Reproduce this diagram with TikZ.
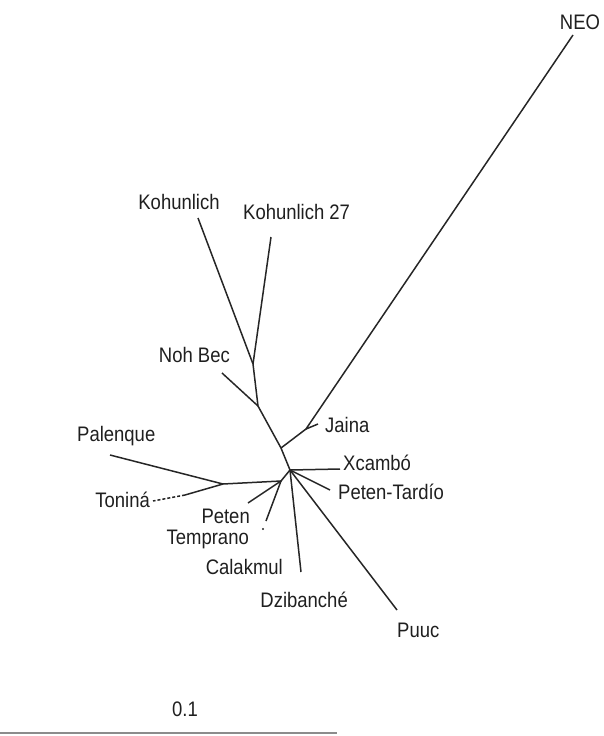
\documentclass[tikz,border=0pt]{standalone}
\usepackage{fontspec}
\setmainfont[FakeStretch=0.88]{Liberation Sans}
\begin{document}
\begin{tikzpicture}[x=1pt,y=-1pt,
  branch/.style={draw=black!85,line width=1.5pt},
  lbl/.style={inner sep=0pt,text height=15pt,text depth=0pt,text=black!88,font=\fontsize{21}{24}\selectfont},
  scalebar/.style={draw=black!45,line width=2pt}]
\path[use as bounding box] (0,0) rectangle (604,736);
% internal junctions
\coordinate (hub) at (290,470);
\coordinate (jneo) at (281,448);
\coordinate (jjaina) at (306,429);
\coordinate (jnoh) at (258,406);
\coordinate (jkoh) at (253,364);
\coordinate (jleft) at (281,481);
\coordinate (jpal) at (223,484);
% tips
\coordinate (tneo) at (573,35);
\coordinate (tjaina) at (318,424);
\coordinate (tkoh) at (198,218);
\coordinate (tkoh27) at (271,237);
\coordinate (tnoh) at (222,373);
\coordinate (tpal) at (110,455);
\coordinate (tton) at (153,501);
\coordinate (ttonm) at (185,495);
\coordinate (tpeten) at (248,503);
\coordinate (tcal) at (266,521);
\coordinate (tdzi) at (301,572);
\coordinate (tpuuc) at (397,610);
\coordinate (txca) at (340,469);
\coordinate (tptar) at (330,490);
% branches
\draw[branch] (hub) -- (jneo) -- (jnoh) -- (jkoh);
\draw[branch] (jkoh) -- (tkoh);
\draw[branch] (jkoh) -- (tkoh27);
\draw[branch] (jnoh) -- (tnoh);
\draw[branch] (jneo) -- (jjaina) -- (tneo);
\draw[branch] (jjaina) -- (tjaina);
\draw[branch] (hub) -- (txca);
\draw[branch] (hub) -- (tptar);
\draw[branch] (hub) -- (tpuuc);
\draw[branch] (hub) -- (tdzi);
\draw[branch] (hub) -- (jleft) -- (jpal);
\draw[branch] (jleft) -- (tpeten);
\draw[branch] (jleft) -- (tcal);
\fill[black!85] (263,529) circle (1.1pt);
\draw[branch] (jpal) -- (tpal);
\draw[branch] (jpal) -- (ttonm);
\draw[branch,dashed,dash pattern=on 3pt off 2pt] (ttonm) -- (tton);
% labels
\node[lbl] (lneo) at (580,22) {NEO};
\node[lbl] (lkoh) at (179,202) {Kohunlich};
\node[lbl,anchor=west] (lkoh27) at (243,212) {Kohunlich 27};
\node[lbl,anchor=east] (lnoh) at (230,355) {Noh Bec};
\node[lbl,anchor=west] (ljaina) at (325,425) {Jaina};
\node[lbl,anchor=west] (lpal) at (77,434) {Palenque};
\node[lbl,anchor=west] (lxca) at (343,463) {Xcambó};
\node[lbl,anchor=west] (lptar) at (338,492) {Peten-Tardío};
\node[lbl,anchor=east] (lton) at (150,500) {Toniná};
\node[lbl,anchor=east] (lpeten) at (250,516) {Peten};
\node[lbl,anchor=east] (ltemp) at (249,537) {Temprano};
\node[lbl,anchor=east] (lcal) at (283,567) {Calakmul};
\node[lbl,anchor=east] (ldzi) at (348,600) {Dzibanché};
\node[lbl,anchor=west] (lpuuc) at (397,630) {Puuc};
% scale
\node[lbl] (lscale) at (185,709) {0.1};
\coordinate (sa) at (0,733);
\coordinate (sb) at (337,733);
\draw[scalebar] (sa) -- (sb);
\end{tikzpicture}
\end{document}
